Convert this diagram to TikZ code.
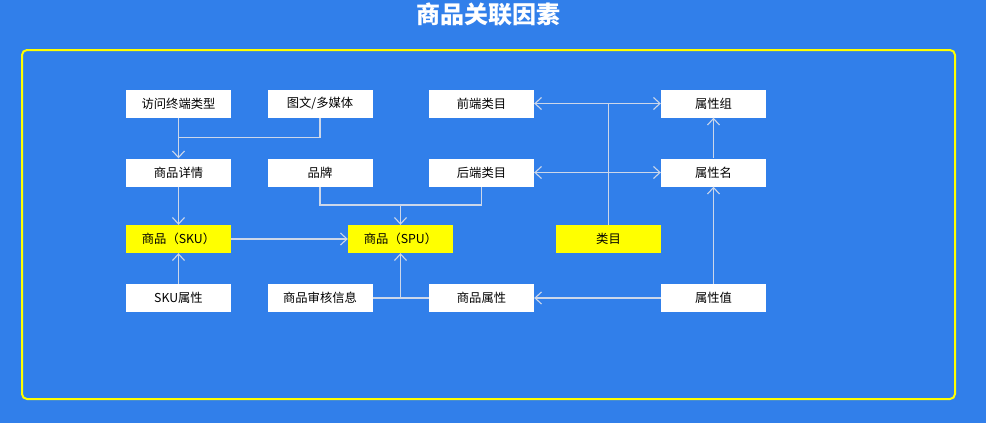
\documentclass[tikz,border=0pt]{standalone}
\usepackage{fontspec}
\newfontfamily\cjk{Noto Sans CJK SC}
\usetikzlibrary{arrows.meta}
\definecolor{bg}{RGB}{49,127,234}
\definecolor{conn}{RGB}{204,215,234}
\definecolor{hl}{RGB}{255,255,0}
\tikzset{
  box/.style={draw=none, fill=white, minimum width=105pt, minimum height=28pt, inner sep=0pt, font=\cjk\fontsize{12.3}{14}\selectfont, text=black},
  hlbox/.style={box, fill=hl},
  link/.style={draw=conn, line width=1.1pt, arrows={-}},
  tip/.style={-{Straight Barb[length=6.5pt,width=12pt,line width=1.1pt]}},
  tips/.style={{Straight Barb[length=6.5pt,width=12pt,line width=1.1pt]}-{Straight Barb[length=6.5pt,width=12pt,line width=1.1pt]}},
}
\begin{document}
\begin{tikzpicture}[x=1pt,y=-1pt]
\fill[bg] (0,0) rectangle (986,423);
\useasboundingbox (0,0) rectangle (986,423);
\node[text=white, font=\cjk\bfseries\fontsize{24}{28}\selectfont] (title) at (488,14) {商品关联因素};
\draw[hl, line width=2pt, rounded corners=5pt] (22,50) rectangle (955,399);

\node[box] (a) at (178.5,103.5) {访问终端类型};
\node[box] (b) at (320,103.5) {图文/多媒体};
\node[box] (c) at (481.5,103.5) {前端类目};
\node[box] (d) at (713.5,103.5) {属性组};
\node[box] (e) at (178.5,172.5) {商品详情};
\node[box] (f) at (320,172.5) {品牌};
\node[box] (g) at (481.5,172.5) {后端类目};
\node[box] (h) at (713.5,172.5) {属性名};
\node[hlbox] (i) at (178.5,239) {商品（SKU）};
\node[hlbox] (j) at (400.5,239) {商品（SPU）};
\node[hlbox] (k) at (608.5,239) {类目};
\node[box] (l) at (178.5,298) {SKU属性};
\node[box] (m) at (320,298) {商品审核信息};
\node[box] (n) at (481.5,298) {商品属性};
\node[box] (o) at (713.5,298) {属性值};

\coordinate (bj) at (178.5,137.5);
\coordinate (sj) at (400.5,205);
\coordinate (mj) at (400.5,298);

\draw[link,tip] (a) -- (e);
\draw[link] (b.south) |- (bj);
\draw[link,tip] (e) -- (i);
\draw[link,tip] (l) -- (i);
\draw[link,tip] (i) -- (j);
\draw[link] (f.south) |- (sj) -| (g.south);
\draw[link,tip] (sj) -- (j.north);
\draw[link] (m.east) -- (n.west);
\draw[link,tip] (mj) -- (j.south);
\draw[link,tips] (c.east) -- (d.west);
\draw[link,tips] (g.east) -- (h.west);
\draw[link] (k.north) -- (k.north |- c.east);
\draw[link,tip] (h) -- (d);
\draw[link,tip] (o) -- (h);
\draw[link,tip] (o) -- (n);
\end{tikzpicture}
\end{document}
